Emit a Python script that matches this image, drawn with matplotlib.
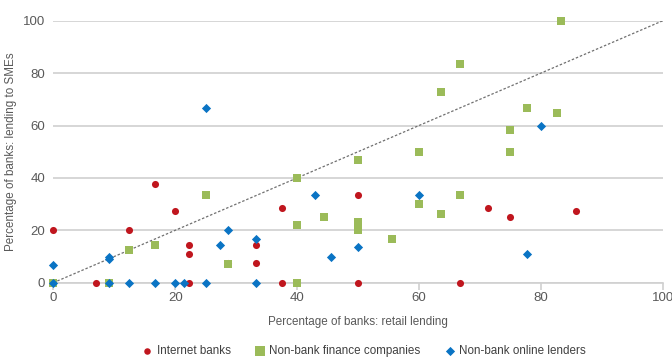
import matplotlib
matplotlib.use("Agg")
import matplotlib.pyplot as plt

plt.rcParams['font.family'] = ['Liberation Sans', 'DejaVu Sans']

internet_x = [0, 7, 12.5, 16.7, 20, 22.2, 22.2, 22.2, 28.6, 33.3, 33.3, 37.5, 37.5, 50, 50, 66.7, 71.4, 75, 85.7]
internet_y = [20, 0, 20, 37.5, 27.3, 14.3, 11.1, 0, 7.7, 14.3, 7.7, 28.6, 0, 33.3, 0, 0, 28.6, 25, 27.3]

finance_x = [0, 9.1, 12.5, 16.7, 25, 28.6, 40, 40, 40, 44.4, 50, 50, 50, 55.6, 60, 60, 63.6, 63.6, 66.7, 66.7, 75, 75, 77.8, 82.6, 83.3]
finance_y = [0, 0, 12.5, 14.3, 33.3, 7.1, 40, 22.2, 0, 25, 46.7, 23.1, 20, 16.7, 50, 30, 26.3, 72.7, 83.3, 33.3, 58.3, 50, 66.7, 64.7, 100]

online_x = [0, 0, 9.1, 9.1, 9.1, 12.5, 16.7, 20, 21.4, 25, 25, 27.3, 28.6, 33.3, 33.3, 42.9, 45.5, 50, 60, 77.8, 80]
online_y = [0, 6.7, 10, 9.1, 0, 0, 0, 0, 0, 0, 66.7, 14.3, 20, 16.7, 0, 33.3, 10, 13.6, 33.3, 11.1, 60]

xticks = [0, 20, 40, 60, 80, 100]
yticks = [0, 20, 40, 60, 80, 100]

text_col = "#595959"
fig = plt.figure(figsize=(6.72, 3.58), dpi=100)
ax = fig.add_axes([0.0793, 0.2103, 0.907, 0.7318])

ax.plot([0, 100], [0, 100], linestyle=(0, (2, 1.5)), color="#707070", linewidth=0.9, zorder=2)

ax.scatter(internet_x, internet_y, s=26, marker='o', color="#C0161E", label="Internet banks", zorder=3, clip_on=False, linewidths=0)
ax.scatter(finance_x, finance_y, s=38, marker='s', color="#9BBB59", label="Non-bank finance companies", zorder=3, clip_on=False, linewidths=0)
ax.scatter(online_x, online_y, s=22, marker='D', color="#0A74C4", label="Non-bank online lenders", zorder=4, clip_on=False, linewidths=0)

ax.set_xlim(0, 100)
ax.set_ylim(0, 100)
ax.set_xticks(xticks)
ax.set_yticks(yticks)
ax.grid(axis='y', color="#D0D0D0", linewidth=1.2, zorder=0)
ax.set_axisbelow(True)
for s in ['top', 'right', 'left']:
    ax.spines[s].set_visible(False)
ax.spines['bottom'].set_color("#D0D0D0")
ax.spines['bottom'].set_linewidth(1.2)
ax.tick_params(axis='x', colors="#D0D0D0", length=5, width=1.2, labelcolor=text_col, labelsize=9.5, pad=2)
ax.tick_params(axis='y', length=0, labelcolor=text_col, labelsize=9.5, pad=6)

ax.set_xlabel("Percentage of banks: retail lending", color=text_col, fontsize=8.4, labelpad=8)
ax.set_ylabel("Percentage of banks: lending to SMEs", color=text_col, fontsize=8.4, labelpad=4)

leg = fig.legend(loc='center', bbox_to_anchor=(0.541, 0.02), ncol=3, frameon=False,
                 fontsize=8.4, handletextpad=0.3, columnspacing=2.0, handlelength=1)
sizes = [22, 60, 22]
for h, sz in zip(leg.legend_handles, sizes):
    h.set_sizes([sz])
for t in leg.get_texts():
    t.set_color("#404040")

fig.savefig("out.png", dpi=100)
